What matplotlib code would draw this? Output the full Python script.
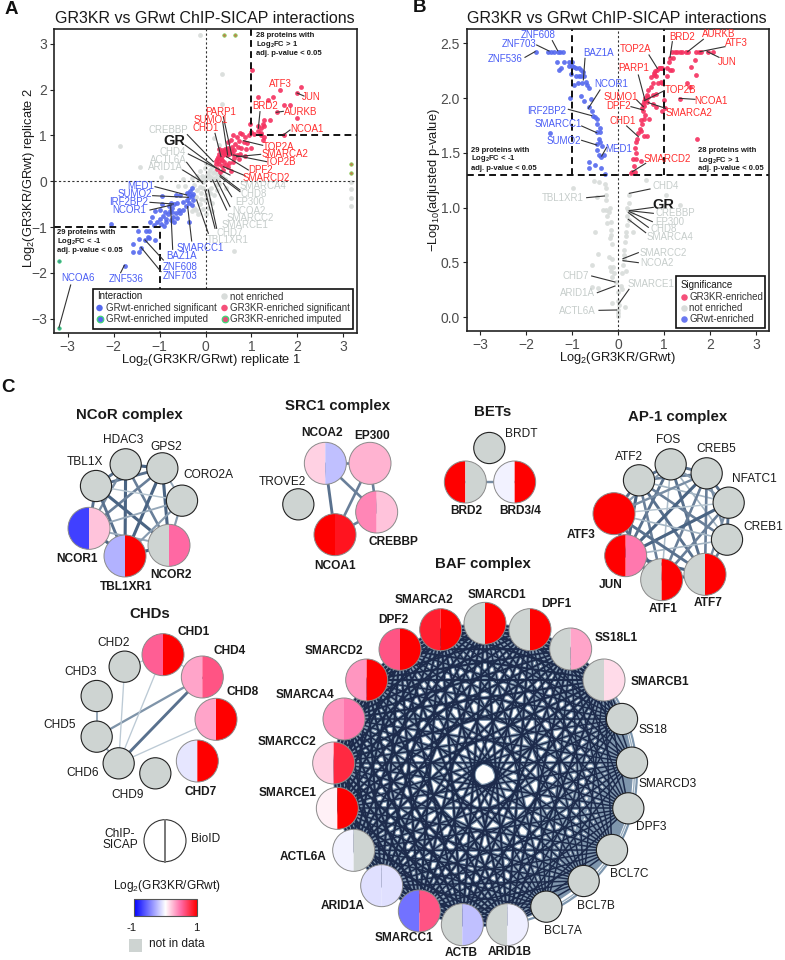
#!/usr/bin/python3
from itertools import combinations

import matplotlib
matplotlib.use('Agg')
import matplotlib.pyplot as plt
import numpy as np
from matplotlib.colors import LinearSegmentedColormap, to_rgb
from matplotlib.patches import Arc, Circle, Rectangle, Wedge

plt.rcParams['font.family'] = ['Liberation Sans', 'DejaVu Sans']
plt.rcParams['mathtext.default'] = 'regular'

W, H = 785, 960

# ---- panel A: replicate 1 vs replicate 2
A_RED = [(1.02,2.43),(2.09,2.05),(1.63,1.99),(2.0,1.93),(1.15,1.83),(1.37,1.78),(1.48,1.84),(1.70,1.67),(1.83,1.67),(1.55,1.51),
         (1.99,1.38),(1.70,1.01),(1.28,1.33),(1.41,1.33),(1.25,1.25),(1.15,1.2),(1.21,1.16),(0.98,1.24),(1.15,1.09),(1.28,1.2),
         (1.2,1.05),(1.0,1.08),(1.05,1.02),(1.2,1.0),(1.28,0.97),(1.25,0.9),(0.8,1.04),(0.75,1.05),(0.85,0.97),(0.95,1.0),
         (0.68,0.97),(0.6,1.0),(0.72,0.88),(0.83,0.86),(0.9,0.83),(0.65,0.82),(0.55,0.9),(0.48,0.85),(0.58,0.75),(0.7,0.75),
         (0.78,0.72),(0.88,0.7),(1.0,0.72),(0.62,0.68),(0.5,0.72),(0.42,0.7),(0.35,0.68),(0.3,0.7),(0.4,0.65),(0.45,0.66),
         (0.48,0.62),(0.52,0.6),(0.42,0.6),(0.38,0.58),(0.46,0.57),(0.55,0.65),(0.6,0.6),(0.68,0.58),(0.75,0.6),(0.85,0.55),
         (0.3,0.6),(0.28,0.52),(0.33,0.5),(0.25,0.48),(0.22,0.45),(0.3,0.45),(0.35,0.47),(0.4,0.42),(0.3,0.38),(0.22,0.38),
         (0.35,0.33),(0.45,0.35),(0.52,0.4),(0.5,0.3),(0.38,0.25),(0.32,0.2),(0.55,0.22),(0.62,0.5),(0.72,0.48),(0.6,0.42),
         (0.25,0.27),(0.44,0.64),(0.5,0.66),(0.4,0.62),(0.36,0.64),(0.47,0.7)]
A_BLUE = [(-2.05,-0.93),(-1.46,-1.09),(-1.3,-1.09),(-1.22,-1.08),(-1.44,-1.26),(-1.58,-1.37),(-1.57,-1.54),(-1.44,-1.55),(-1.40,-1.45),
          (-1.31,-1.29),(-1.25,-1.22),(-1.22,-1.24),(-1.10,-1.28),(-1.76,-1.84),(-1.2,-0.88),(-1.12,-0.95),(-1.05,-0.9),(-0.98,-0.93),
          (-1.0,-0.82),(-0.9,-0.98),(-0.87,-0.9),(-0.85,-0.82),(-0.92,-0.75),(-0.82,-0.72),(-0.88,-0.68),(-0.78,-0.65),(-0.72,-0.68),
          (-0.7,-0.78),(-0.75,-0.85),(-0.68,-0.9),(-0.62,-0.8),(-0.65,-0.7),(-0.58,-0.62),(-0.72,-0.58),(-0.8,-0.55),(-0.95,-0.5),
          (-1.1,-0.65),(-1.0,-0.62),(-1.17,-0.77),(-0.68,-0.5),(-0.75,-0.48),(-0.63,-0.48),(-0.55,-0.7),(-0.48,-0.62),(-0.42,-0.55),
          (-0.48,-0.45),(-0.35,-0.47),(-0.3,-0.52),(-0.28,-0.42),(-0.4,-0.4),(-0.36,-0.35),(-0.3,-0.33),(-0.35,-0.28),(-0.28,-0.27),
          (-0.4,-0.25),(-0.33,-0.22),(-0.3,-0.15),(-0.35,-0.88),(-0.55,-0.3),(-0.65,-0.3),(-0.95,-0.33)]
A_GREY = [(-0.13,3.2),(0.36,2.33),(0.37,1.68),(-1.87,0.76),(-1.43,0.3),(-0.98,0.1),(3.17,-0.02),(3.17,-0.17),(3.17,-0.37),(3.17,-0.55),
          (0.63,-1.52),(0.19,0.94),(0.3,0.78),(-0.6,-0.1),(-0.45,-0.1),(-0.25,-0.08),(-0.12,-0.12),(-0.05,-0.02),(0.02,0.05),(0.08,0.12),
          (0.12,0.02),(0.16,0.18),(0.2,0.08),(0.25,0.15),(0.1,0.25),(0.05,0.18),(0.15,0.32),(0.08,0.38),(0.2,0.22),(0.28,0.05),
          (0.35,0.12),(0.42,0.05),(0.3,-0.05),(0.22,-0.08),(0.12,-0.15),(0.05,-0.2),(-0.05,-0.15),(-0.1,-0.25),(-0.18,-0.2),(0.02,-0.3),
          (0.1,-0.25),(0.18,-0.3),(0.25,-0.2),(-0.02,-0.42),(-0.1,-0.38),(-0.2,-0.35),(0.08,-0.42),(0.15,-0.48),(-0.12,-0.5),(-0.05,-0.6),
          (0.05,-0.58),(-0.2,-0.62),(-0.16,-0.72),(-0.3,-0.65),(-0.25,-0.58),(0.0,-0.72),(0.15,-0.65),(-0.08,0.12),(-0.02,0.28),(0.0,0.4),
          (-0.5,0.05),(-0.3,0.08),(-0.18,0.12),(-0.12,0.22),(0.45,-0.15),(-0.05,0.08),(-0.15,0.02),(0.02,0.12),(0.1,0.1),(0.14,0.08)]
A_RED_IMPUTED = [(0.4,3.2),(0.65,3.2),(3.17,0.38),(3.17,0.18)]
A_BLUE_IMPUTED = [(-3.19,-1.75),(-3.19,-3.2)]

# ---- panel B: volcano
B_RED = [(1.17,2.42),(1.24,2.42),(1.29,2.42),(1.34,2.42),(1.4,2.42),(1.47,2.42),(1.53,2.42),(1.69,2.42),(1.75,2.42),(1.8,2.42),
         (1.96,2.42),(2.07,2.42),(1.14,2.37),(1.2,2.37),(1.11,2.33),(1.67,2.35),(1.58,2.28),(1.69,2.21),(1.49,2.14),(1.56,2.1),
         (1.35,1.99),(1.72,1.63),(1.07,2.27),(1.14,2.26),(1.18,2.26),(1.07,2.2),(0.96,2.27),(0.93,2.27),(0.88,2.27),(0.84,2.26),
         (0.8,2.25),(0.78,2.23),(0.78,2.21),(0.71,2.19),(0.82,2.2),(0.93,2.15),(0.86,2.14),(0.96,2.14),(0.76,2.14),(0.71,2.1),
         (0.65,2.07),(0.62,2.03),(0.59,2.0),(0.57,1.97),(0.66,2.01),(0.75,2.03),(0.82,2.04),(1.0,1.98),(1.02,1.91),(0.96,1.88),
         (0.82,1.92),(0.75,1.95),(0.57,1.93),(0.53,1.91),(0.54,1.88),(0.59,1.85),(0.49,1.8),(0.57,1.81),(0.67,1.81),(0.53,1.76),
         (0.47,1.72),(0.51,1.7),(0.44,1.68),(0.42,1.63),(0.64,1.65),(0.57,1.65),(0.4,1.6),(0.38,1.54),(0.4,1.5),(0.33,1.44),
         (0.4,1.44),(0.51,1.43),(0.35,1.38),(0.31,1.33),(0.36,1.33),(0.28,1.32),(0.6,1.98),(0.55,1.95),(0.62,1.96),(0.91,2.27)]
B_BLUE = [(-1.79,2.42),(-1.52,2.42),(-1.45,2.42),(-1.40,2.42),(-1.3,2.42),(-1.27,2.42),(-1.2,2.42),(-1.32,2.33),(-1.17,2.33),(-1.07,2.33),
          (-0.99,2.33),(-1.28,2.26),(-1.23,2.27),(-1.07,2.29),(-1.03,2.22),(-0.99,2.29),(-0.96,2.28),(-0.91,2.27),(-0.85,2.27),(-0.8,2.26),
          (-0.75,2.24),(-0.92,2.2),(-0.85,2.2),(-0.8,2.2),(-0.74,2.2),(-0.7,2.15),(-0.78,2.14),(-0.86,2.14),(-0.96,2.12),(-0.67,2.12),
          (-0.64,2.09),(-0.81,2.02),(-1.04,2.0),(-0.59,1.99),(-0.74,1.97),(-0.63,1.92),(-0.56,1.88),(-0.54,1.84),(-0.49,1.83),(-0.46,1.81),
          (-0.45,1.76),(-0.4,1.73),(-0.45,1.69),(-0.4,1.69),(-1.48,1.68),(-0.41,1.63),(-0.45,1.58),(-0.4,1.6),(-0.34,1.56),(-0.45,1.53),
          (-0.41,1.48),(-0.36,1.46),(-0.3,1.48),(-0.64,1.42),(-0.49,1.39),(-0.64,1.36),(-0.38,1.36),(-0.28,1.31)]
B_GREY = [(-0.97,1.18),(-0.52,1.24),(-0.41,1.23),(-0.28,1.22),(-0.27,1.18),(0.6,1.25),(0.24,1.12),(1.04,1.12),(1.35,1.02),(-0.25,1.12),
          (-0.27,1.07),(-0.45,1.1),(-0.33,0.98),(-0.27,0.98),(-0.2,0.96),(-0.23,0.92),(-0.16,0.87),(-0.23,0.86),(-0.49,0.78),(-0.16,0.75),
          (-0.17,0.72),(-0.14,0.67),(0.24,1.04),(0.22,0.98),(0.26,0.97),(0.31,0.95),(0.2,0.92),(0.24,0.89),(0.2,0.84),(0.17,0.78),
          (0.33,0.78),(0.17,0.74),(0.15,0.69),(-0.43,0.58),(-0.12,0.53),(-0.2,0.55),(0.14,0.61),(0.13,0.57),(0.12,0.53),(0.11,0.48),
          (-0.56,0.48),(-0.18,0.46),(-0.11,0.46),(-0.16,0.42),(-0.09,0.4),(-0.12,0.37),(0.17,0.42),(0.09,0.4),(-0.05,0.32),(-0.56,0.28),
          (-0.43,0.27),(0.06,0.29),(0.08,0.26),(-0.01,0.23),(-0.12,0.13),(0.01,0.15),(0.02,0.11),(0.15,0.09),(-0.01,0.07),(0.01,0.04),
          (0.01,0.01),(-0.18,1.0),(0.2,1.0),(-0.15,0.8)]

# gene label, text centre, connector start, connector end (all in 3x picture units)
A_LABELS = [('ATF3','r',841,251,None),('JUN','r',935,292,(912,288,891,279)),('BRD2','r',795,319,(780,335,775,385)),
            ('AURKB','r',903,336,(850,334,829,337)),('NCOA1','r',920,388,(870,390,850,405)),('PARP1','r',663,335,(670,350,695,465)),
            ('SUMO1','r',631,361,(668,365,683,465)),('CHD1','r',617,385,(645,400,663,470)),('TOP2A','r',835,440,(788,436,730,422)),
            ('SMARCA2','r',856,463,(782,463,710,470)),('TOP2B','r',843,487,(800,485,700,465)),('DPF2','r',783,509,(745,510,680,470)),
            ('SMARCD2','r',800,533,(735,527,670,500)),
            ('CREBBP','g',504,390,(562,404,640,485)),('CHD4','g',518,457,(565,462,690,525)),('ACTL6A','g',505,480,(560,487,608,550)),
            ('ARID1A','g',497,502,(548,510,605,545)),('SMARCA4','g',790,558,(720,570,660,525)),('CHD8','g',760,582,(720,575,660,530)),
            ('EP300','g',750,605,(695,590,670,550)),('NCOA2','g',747,633,(690,620,650,540)),('SMARCC2','g',750,655,(680,630,638,540)),
            ('SMARCE1','g',735,676,(650,685,625,570)),('CHD7','g',688,698,(645,685,615,570)),('TBL1XR1','g',682,721,(625,700,590,600)),
            ('MED1','b',421,557,(465,560,560,585)),('SUMO2','b',403,582,(458,587,565,592)),('IRF2BP2','b',385,607,(450,607,520,612)),
            ('NCOR1','b',388,630,(450,630,515,615)),('SMARCC1','b',601,745,(575,723,563,620)),('BAZ1A','b',545,767,(518,748,512,620)),
            ('ZNF608','b',541,800,(490,780,435,720)),('ZNF703','b',541,827,(483,815,423,742)),('ZNF536','b',378,836,(362,818,373,796)),
            ('NCOA6','b',234,835,(212,855,177,982)),('GR','k',522,422,(555,435,650,505))]
B_LABELS = [('ZNF608','b',431,106,(472,122,488,152)),('ZNF703','b',372,133,(425,135,462,153)),('ZNF536','b',332,177,(390,172,420,155)),
            ('BAZ1A','b',610,158,(570,175,565,240)),('NCOR1','b',648,253,(615,270,580,325)),('IRF2BP2','b',456,332,(520,328,590,347)),
            ('SMARCC1','b',490,373,(560,378,605,398)),('SUMO2','b',505,423,(560,421,605,435)),('MED1','b',672,447,(635,442,620,468)),
            ('TOP2A','r',722,146,(762,165,787,205)),('BRD2','r',860,112,(832,125,825,172)),('AURKB','r',970,103,(925,118,878,155)),
            ('ATF3','r',1025,128,(990,140,915,155)),('JUN','r',998,185,(972,172,937,155)),('PARP1','r',715,205,(730,225,750,300)),
            ('TOP2B','r',858,271,(808,272,748,302)),('SUMO1','r',676,290,(725,300,745,320)),('NCOA1','r',948,304,(900,298,853,295)),
            ('DPF2','r',671,319,(708,320,745,330)),('SMARCA2','r',883,340,(812,325,760,308)),('CHD1','r',682,362,(695,378,730,410)),
            ('SMARCD2','r',818,477,(752,490,712,515)),
            ('CHD4','g',812,557,(765,567,703,580)),('TBL1XR1','g',503,595,(575,593,628,588)),('GR','k',804,615,(775,622,703,632)),
            ('CREBBP','g',840,640,(775,640,703,632)),('EP300','g',824,665,(772,665,703,635)),('CHD8','g',806,688,(760,682,700,638)),
            ('SMARCA4','g',824,711,(752,698,700,658)),('SMARCC2','g',805,758,(730,758,684,776)),('NCOA2','g',785,788,(730,788,684,782)),
            ('CHD7','g',541,828,(590,828,660,846)),('SMARCE1','g',767,851,(702,868,672,910)),('ARID1A','g',548,880,(607,878,660,858)),
            ('ACTL6A','g',548,933,(612,931,665,930))]

# ---- panel C: networks, (ChIP-SICAP, BioID) log2 ratio, None = not in data
NCOR_NAMES = ['HDAC3','GPS2','TBL1X','CORO2A','NCOR1','TBL1XR1','NCOR2']
NCOR_CHIP = [None,None,None,None,-0.75,-0.3,None]
NCOR_BIOID = [None,None,None,None,0.2,1,0.5]
NCOR_EDGES = [(0,1,.9),(0,2,.8),(1,2,.8),(0,5,.9),(0,6,.7),(1,5,.9),(1,6,.9),(0,4,.6),(1,4,.7),(2,5,.8),(2,6,.9),(4,5,.9),(5,6,.9),
              (4,6,.4),(2,3,.2),(1,3,.4),(3,4,.4),(3,5,.5),(3,6,.5),(2,4,.8)]
SRC_NAMES = ['NCOA2','EP300','TROVE2','CREBBP','NCOA1']
SRC_CHIP = [0.15,0.25,None,0.4,1]
SRC_BIOID = [-0.25,0.25,None,0.2,0.9]
SRC_EDGES = [(0,1,.7),(0,3,.7),(0,4,.8),(1,3,.7),(1,4,.7),(3,4,.7)]
BET_NAMES = ['BRDT','BRD2','BRD3/4']
BET_CHIP = [None,1,-0.05]
BET_BIOID = [None,None,1]
BET_EDGES = [(1,2,.6)]
AP1_NAMES = ['FOS','ATF2','CREB5','NFATC1','CREB1','ATF3','JUN','ATF1','ATF7']
AP1_CHIP = [None,None,None,None,None,1,1,None,None]
AP1_BIOID = [None,None,None,None,None,1,0.45,1,1]
AP1_EDGES = [(0,1,.8),(0,2,.8),(1,2,.7),(0,3,.5),(0,4,.3),(0,5,.5),(0,6,.8),(0,7,.25),(0,8,.8),(1,3,.3),(1,4,.7),(1,5,.8),(1,6,.9),
             (1,7,.7),(1,8,.8),(2,3,.8),(2,4,.6),(2,5,.6),(2,6,.9),(2,7,.7),(2,8,.7),(3,4,.8),(3,5,.2),(3,6,.9),(3,7,.7),(3,8,.6),
             (4,5,.3),(4,6,.3),(4,8,.7),(5,6,.9),(5,7,.8),(5,8,.8),(6,7,.9),(6,8,.9),(7,8,.9)]
CHD_NAMES = ['CHD1','CHD2','CHD4','CHD3','CHD8','CHD5','CHD6','CHD7','CHD9']
CHD_CHIP = [0.55,None,0.3,None,0.3,None,None,-0.1,None]
CHD_BIOID = [1,None,0.6,None,1,None,None,1,None]
CHD_EDGES = [(2,5,.55),(2,6,.8),(1,6,.15),(0,6,.15),(0,1,.15),(0,2,.15),(4,6,.15),(3,5,.4),(5,6,.4)]
BAF_NAMES = ['SMARCD1','DPF1','SS18L1','SMARCB1','SS18','SMARCD3','DPF3','BCL7C','BCL7B','BCL7A','ARID1B','ACTB','SMARCC1',
             'ARID1A','ACTL6A','SMARCE1','SMARCC2','SMARCA4','SMARCD2','DPF2','SMARCA2']
BAF_CHIP = [None,None,None,None,None,None,None,None,None,None,None,None,-0.55,-0.12,-0.05,0.05,0.15,0.35,0.35,0.6,0.85]
BAF_BIOID = [1,1,0.3,0.12,None,None,None,None,None,None,-0.07,-0.25,0.6,-0.12,None,1,0.8,0.45,1,1,1]

# layout of the networks, x/y in 3x picture units with an offset per crop
NCOR_POS = [(377,223),(487,235),(288,288),(546,332),(267,415),(375,498),(507,466)]
NCOR_TEXT = [(371,150),(498,170),(256,215),(624,255),(232,508),(378,592),(513,555)]
SRC_POS = [(976,220),(1110,220),(895,343),(1130,366),(1005,434)]
SRC_TEXT = [(965,130),(1116,138),(848,275),(1180,455),(1005,528)]
BET_POS = [(268,174),(196,276),(344,276)]
BET_TEXT = [(363,133),(198,362),(360,362)]
AP1_POS = [(812,223),(717,271),(920,250),(986,338),(981,449),(642,371),(677,497),(785,569),(915,553)]
AP1_TEXT = [(805,150),(687,200),(950,176),(1062,268),(1090,410),(542,435),(633,585),(790,658),(923,638)]
CHD_POS = [(489,194),(374,230),(607,261),(290,318),(648,388),(290,440),(356,520),(592,513),(466,550)]
CHD_TEXT = [(582,127),(342,160),(689,183),(243,245),(729,307),(180,405),(249,550),(602,607),(382,614)]
BAF_POS = [(705,190),(840,209),(962,267),(1062,360),(1116,477),(1146,608),(1135,745),(1086,870),(1001,963),(889,1040),(772,1094),
           (637,1094),(508,1053),(395,977),(311,871),(262,745),(251,609),(282,477),(350,360),(450,268),(572,209)]
BAF_TEXT = [(740,105),(920,132),(1100,233),(1230,365),(1210,510),(1254,672),(1205,800),(1137,943),(1037,1037),(938,1113),(778,1175),
            (633,1180),(461,1135),(277,1037),(160,890),(112,698),(110,546),(165,404),(253,272),(431,180),(521,119)]

TXT = {'r': '#ff2e2e', 'b': '#4a5df5', 'g': '#c6cdcb', 'k': '#1a1a1a'}
DOT_RED, DOT_BLUE, DOT_GREY = '#f5305f', '#5468ee', '#d8dcda'
NODE_GREY = '#ced4d2'
ratio_cmap = LinearSegmentedColormap.from_list(
    'ratio', [(0, '#0000ff'), (0.5, '#ffffff'), (0.75, '#ff69a5'), (1, '#ff0000')])


def px_axes(left, right, top, bottom):
    return fig.add_axes([left / W, 1 - bottom / H, (right - left) / W, (bottom - top) / H])


def scat(ax, pts, color):
    xy = np.array(pts)
    ax.scatter(xy[:, 0], xy[:, 1], s=12, color=color, linewidths=0, alpha=0.9)


def style_axes(ax):
    for s in ax.spines.values():
        s.set_linewidth(1.2)
        s.set_color('#222222')
    ax.tick_params(labelsize=10, colors='#4d4d4d', length=3, width=0.8, pad=2)
    ax.tick_params(color='#222222')


def put_labels(labels, ox=0):
    for name, col, tx, ty, seg in labels:
        if seg is not None:
            ov.plot([seg[0] / 3 + ox, seg[2] / 3 + ox], [seg[1] / 3, seg[3] / 3], color='#333333', lw=0.8, zorder=5)
        if name == 'GR':
            ov.text(tx / 3 + ox, ty / 3, name, color=TXT[col], fontsize=10.5, fontweight='bold', ha='center', va='center', zorder=6)
        else:
            ov.text(tx / 3 + ox, ty / 3, name, color=TXT[col], fontsize=7, ha='center', va='center', zorder=6)


def node(x, y, left, right):
    if left is None and right is None:
        ov.add_patch(Circle((x, y), 15.6, fc=NODE_GREY, ec='#222222', lw=0.8, zorder=3))
        return
    r = 21
    lc = NODE_GREY if left is None else ratio_cmap((left + 1) / 2)
    rc = NODE_GREY if right is None else ratio_cmap((right + 1) / 2)
    ov.add_patch(Wedge((x, y), r, 90, 270, fc=lc, ec='none', zorder=3))
    ov.add_patch(Wedge((x, y), r, 270, 450, fc=rc, ec='none', zorder=3))
    ov.add_patch(Circle((x, y), r, fc='none', ec='#8a8a8a', lw=0.7, zorder=4))


def network(names, chip, bioid, pos, text, edges, ox, oy):
    xy = [(p[0] / 3 + ox, p[1] / 3 + oy) for p in pos]
    light, dark = np.array(to_rgb('#d3dfe5')), np.array(to_rgb('#3b5678'))
    for i, j, w in edges:
        c = light + (dark - light) * w
        ov.plot([xy[i][0], xy[j][0]], [xy[i][1], xy[j][1]], color=c, lw=0.7 + 1.7 * w, zorder=2, solid_capstyle='butt')
    for n, (x, y) in enumerate(xy):
        node(x, y, chip[n], bioid[n])
        bold = chip[n] is not None or bioid[n] is not None
        tx, ty = text[n]
        ov.text(tx / 3 + ox, ty / 3 + oy, names[n], fontsize=8.6, ha='center', va='center', color='#1a1a1a',
                fontweight='bold' if bold else 'normal', zorder=6)


fig = plt.figure(figsize=(W / 100, H / 100), dpi=100)

# panel A
axA = px_axes(54, 357, 29, 333)
axA.set_xlim(-3.30, 3.30)
axA.set_ylim(-3.31, 3.32)
axA.axvline(0, color='#333333', lw=0.8, ls=(0, (2, 2)))
axA.axhline(0, color='#333333', lw=0.8, ls=(0, (2, 2)))
scat(axA, A_GREY, DOT_GREY)
scat(axA, A_RED, DOT_RED)
scat(axA, A_BLUE, DOT_BLUE)
xy_imp = np.array(A_BLUE_IMPUTED)
axA.scatter(xy_imp[:, 0], xy_imp[:, 1], s=6, color='#4a8a9a', edgecolors='#30d070', linewidths=0.6)
xy_imp = np.array(A_RED_IMPUTED)
axA.scatter(xy_imp[:, 0], xy_imp[:, 1], s=6, color='#c87a50', edgecolors='#80cc50', linewidths=0.6)
dash = (0, (3.5, 2.2))
axA.plot([1, 1, 3.30], [3.32, 1, 1], color='#111111', lw=1.4, ls=dash)
axA.plot([-3.30, -1, -1], [-1, -1, -3.31], color='#111111', lw=1.4, ls=dash)
axA.set_xticks([-3, -2, -1, 0, 1, 2, 3])
axA.set_yticks([-3, -2, -1, 0, 1, 2, 3])
style_axes(axA)

# panel B
axB = px_axes(467, 769, 29, 331)
axB.set_xlim(-3.28, 3.28)
axB.set_ylim(-0.125, 2.63)
axB.axvline(0, color='#333333', lw=0.8, ls=(0, (2, 2)))
scat(axB, B_GREY, DOT_GREY)
scat(axB, B_RED, DOT_RED)
scat(axB, B_BLUE, DOT_BLUE)
axB.plot([-1, -1], [1.3, 2.63], color='#111111', lw=1.4, ls=dash)
axB.plot([1, 1], [1.3, 2.63], color='#111111', lw=1.4, ls=dash)
axB.axhline(1.3, color='#111111', lw=1.4, ls=dash)
axB.set_xticks([-3, -2, -1, 0, 1, 2, 3])
axB.set_yticks([0, 0.5, 1, 1.5, 2, 2.5])
axB.set_yticklabels(['0.0', '0.5', '1.0', '1.5', '2.0', '2.5'])
style_axes(axB)

# overlay in picture pixels for labels, legends and networks
ov = fig.add_axes([0, 0, 1, 1], facecolor='none')
ov.set_xlim(0, W)
ov.set_ylim(H, 0)
ov.axis('off')

for s, x, y in [('A', 11, 9), ('B', 419, 8), ('C', 8, 387)]:
    ov.text(x, y, s, fontsize=13.5, fontweight='bold', ha='center', va='center', color='#111111')
for x in (205, 617):
    ov.text(x, 18.5, 'GR3KR vs GRwt ChIP-SICAP interactions', fontsize=11.5, ha='center', va='center', color='#1a1a1a')
ov.text(211, 360, r'Log$_2$(GR3KR/GRwt) replicate 1', fontsize=9.3, ha='center', va='center', color='#1a1a1a')
ov.text(29, 178, r'Log$_2$(GR3KR/GRwt) replicate 2', fontsize=9.3, ha='center', va='center', rotation=90, color='#1a1a1a')
ov.text(617, 358, r'Log$_2$(GR3KR/GRwt)', fontsize=9.3, ha='center', va='center', color='#1a1a1a')
ov.text(434, 180, r'$-$Log$_{10}$(adjusted p-value)', fontsize=9.3, ha='center', va='center', rotation=90, color='#1a1a1a')

put_labels(A_LABELS)
put_labels(B_LABELS, ox=395)

NOTE_UP = '28 proteins with\nLog$_2$FC > 1\nadj. p-value < 0.05'
NOTE_DOWN = '29 proteins with\nLog$_2$FC < -1\nadj. p-value < 0.05'
for x, y, note in [(256, 44.5, NOTE_UP), (57, 241.5, NOTE_DOWN), (471, 159, NOTE_DOWN), (698, 160, NOTE_UP)]:
    ov.text(x, y, note, fontsize=5.5, fontweight='bold', ha='left', va='center', color='#1a1a1a', linespacing=1.0)

# legend A
ov.add_patch(Rectangle((93, 289), 260, 39.5, fc='white', ec='#111111', lw=1.2, zorder=7))
ov.text(97, 296, 'Interaction', fontsize=7, ha='left', va='center', zorder=8, color='#1a1a1a')
for dx, dy, c, e, s in [(99.5, 308, DOT_BLUE, None, 'GRwt-enriched significant'),
                        (99.5, 319, DOT_BLUE, '#40d878', 'GRwt-enriched imputed'),
                        (224.5, 296.5, DOT_GREY, None, 'not enriched'),
                        (224.5, 308, '#f5507a', None, 'GR3KR-enriched significant'),
                        (224.5, 319, '#e0507a', '#40d878', 'GR3KR-enriched imputed')]:
    ov.scatter([dx], [dy], s=22, color=c, edgecolors=e if e else 'none', linewidths=0.9, zorder=8)
    ov.text(dx + 6, dy + 0.3, s, fontsize=7, ha='left', va='center', zorder=8, color='#333333')

# legend B
ov.add_patch(Rectangle((676, 275.5), 89, 52, fc='white', ec='#111111', lw=1.2, zorder=7))
ov.text(680.5, 285, 'Significance', fontsize=7, ha='left', va='center', zorder=8, color='#1a1a1a')
for dy, c, s in [(297, '#f5507a', 'GR3KR-enriched'), (308, DOT_GREY, 'not enriched'), (319, '#6a78f0', 'GRwt-enriched')]:
    ov.scatter([683.7], [dy], s=22, color=c, linewidths=0, zorder=8)
    ov.text(689, dy + 0.3, s, fontsize=7, ha='left', va='center', zorder=8, color='#333333')

# panel C
for x, y, s in [(129, 415, 'NCoR complex'), (338, 406, 'SRC1 complex'), (493, 412, 'BETs'), (678, 417, 'AP-1 complex'),
                (483, 564, 'BAF complex'), (150, 614, 'CHDs')]:
    ov.text(x, y, s, fontsize=10.8, fontweight='bold', ha='center', va='center', color='#1a1a1a')

network(NCOR_NAMES, NCOR_CHIP, NCOR_BIOID, NCOR_POS, NCOR_TEXT, NCOR_EDGES, 0, 390)
network(SRC_NAMES, SRC_CHIP, SRC_BIOID, SRC_POS, SRC_TEXT, SRC_EDGES, 0, 390)
network(BET_NAMES, BET_CHIP, BET_BIOID, BET_POS, BET_TEXT, BET_EDGES, 400, 390)
network(AP1_NAMES, AP1_CHIP, AP1_BIOID, AP1_POS, AP1_TEXT, AP1_EDGES, 400, 390)
network(CHD_NAMES, CHD_CHIP, CHD_BIOID, CHD_POS, CHD_TEXT, CHD_EDGES, 0, 590)

# BAF is a complete graph, the small grey nodes (SS18 .. BCL7A) have weaker links
ov.add_patch(Arc((485.3, 774.3), 303, 303, theta1=-32, theta2=75, color='#7d96ae', lw=1.6, zorder=1.5))
ov.add_patch(Arc((485.3, 774.3), 298, 298, theta1=-36, theta2=60, color='#9ab0c2', lw=1.0, zorder=1.5))
pts = [(p[0] / 3 + 250, p[1] / 3 + 560) for p in BAF_POS]
small = set(range(4, 10))
for i, j in combinations(range(len(pts)), 2):
    ov.plot([pts[i][0], pts[j][0]], [pts[i][1], pts[j][1]], color='#7f96ad', lw=2.8, zorder=1.7, solid_capstyle='butt')
for i, j in combinations(range(len(pts)), 2):
    n_small = (i in small) + (j in small)
    if n_small == 2:
        continue
    ov.plot([pts[i][0], pts[j][0]], [pts[i][1], pts[j][1]], color='#1d2b4c', lw=1.5 - 0.4 * n_small, zorder=1.8, solid_capstyle='butt')
network(BAF_NAMES, BAF_CHIP, BAF_BIOID, BAF_POS, BAF_TEXT, [], 250, 560)

# split-node key
ov.add_patch(Circle((165, 840.7), 21, fc='white', ec='#333333', lw=0.8, zorder=3))
ov.plot([165, 165], [819.7, 861.7], color='#777777', lw=1.4, zorder=4)
ov.text(120, 839.5, 'ChIP-\nSICAP', fontsize=8.6, ha='center', va='center', color='#1a1a1a', linespacing=0.85)
ov.text(205.7, 839.5, 'BioID', fontsize=8.6, ha='center', va='center', color='#1a1a1a')

# colour key
ov.text(166.7, 886.5, r'Log$_2$(GR3KR/GRwt)', fontsize=8.6, ha='center', va='center', color='#1a1a1a')
ov.imshow(np.linspace(0, 1, 256).reshape(1, -1), cmap=ratio_cmap, extent=(134.3, 197.3, 915.7, 899), aspect='auto', zorder=3)
ov.set_xlim(0, W)
ov.set_ylim(H, 0)
ov.add_patch(Rectangle((134.3, 899), 63, 16.7, fc='none', ec='#555555', lw=0.8, zorder=4))
ov.text(131.5, 928, '-1', fontsize=8.2, ha='center', va='center', color='#1a1a1a')
ov.text(196, 928, '1', fontsize=8.2, ha='center', va='center', color='#1a1a1a')
ov.add_patch(Rectangle((129, 938.5), 12.7, 13.5, fc=NODE_GREY, ec='none'))
ov.text(176.7, 944, 'not in data', fontsize=8.6, ha='center', va='center', color='#1a1a1a')

fig.savefig('out.png', dpi=100)
